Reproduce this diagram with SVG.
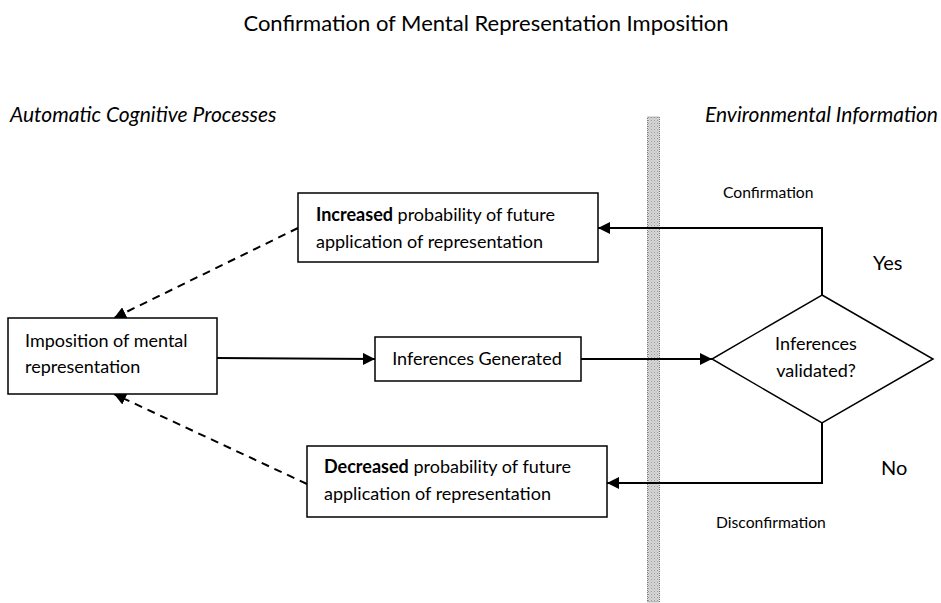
<svg xmlns="http://www.w3.org/2000/svg" width="941" height="603" viewBox="0 0 941 603">
<defs>
<marker id="ah2" viewBox="0 0 10 10" refX="10" refY="5" markerWidth="12" markerHeight="12" orient="auto" markerUnits="userSpaceOnUse">
<path d="M0,0 L10,5 L0,10 z" fill="#000"/>
</marker>
<pattern id="dots" width="3" height="3" patternUnits="userSpaceOnUse">
<rect width="3" height="3" fill="#d8d8d8"/>
<rect width="1" height="1" fill="#999"/>
<rect x="1.5" y="1.5" width="1" height="1" fill="#aaa"/>
</pattern>
<style>
text { font-family: Lato, "Open Sans", "Liberation Sans", sans-serif; fill: #000; }
.box { fill: #fff; stroke: #000; stroke-width: 1.5; }
.t { font-size: 18px; }
.s { font-size: 15.7px; }
.it { font-size: 21px; font-style: italic; }
.c { stroke: #000; stroke-width: 2; fill: none; }
.d { stroke: #000; stroke-width: 2; fill: none; stroke-dasharray: 8 6; }
</style>
</defs>
<text x="486" y="31" text-anchor="middle" style="font-size:22px">Confirmation of Mental Representation Imposition</text>
<text class="it" x="10" y="122">Automatic Cognitive Processes</text>
<text class="it" x="938" y="122" text-anchor="end">Environmental Information</text>
<rect x="647.5" y="117" width="12" height="485" fill="url(#dots)" stroke="#777" stroke-width="1" stroke-dasharray="1 1"/>
<g id="connectors">
<path class="c" d="M217,358 L375,359" marker-end="url(#ah2)"/>
<path class="c" d="M581,359 L712,359" marker-end="url(#ah2)"/>
<path class="c" d="M822,295 L822,228 L598,228" marker-end="url(#ah2)"/>
<path class="c" d="M822,423 L822,483 L607,483" marker-end="url(#ah2)"/>
<path class="d" d="M298,228 L114,318" marker-end="url(#ah2)"/>
<path class="d" d="M307,484 L114,394" marker-end="url(#ah2)"/>
</g>
<g id="increased">
<rect class="box" x="298" y="193" width="300" height="69"/>
<text class="t" x="316" y="221"><tspan font-weight="bold">Increased</tspan> probability of future</text>
<text class="t" x="316" y="248">application of representation</text>
</g>
<g id="imposition">
<rect class="box" x="8" y="318" width="209" height="76"/>
<text class="t" x="25" y="347">Imposition of mental</text>
<text class="t" x="25" y="373">representation</text>
</g>
<g id="inferences">
<rect class="box" x="375" y="337" width="206" height="44"/>
<text class="t" x="477" y="365" text-anchor="middle">Inferences Generated</text>
</g>
<g id="decreased">
<rect class="box" x="307" y="446" width="300" height="71"/>
<text class="t" x="324" y="473"><tspan font-weight="bold">Decreased</tspan> probability of future</text>
<text class="t" x="324" y="500">application of representation</text>
</g>
<g id="validated">
<polygon class="box" points="822,295 933,359 822,423 712,359"/>
<text class="t" x="816" y="350" text-anchor="middle">Inferences</text>
<text class="t" x="816" y="377" text-anchor="middle">validated?</text>
</g>
<text class="s" x="723" y="198">Confirmation</text>
<text class="s" x="716" y="528">Disconfirmation</text>
<text x="873" y="270" style="font-size:20px">Yes</text>
<text x="881" y="475" style="font-size:20px">No</text>
</svg>
